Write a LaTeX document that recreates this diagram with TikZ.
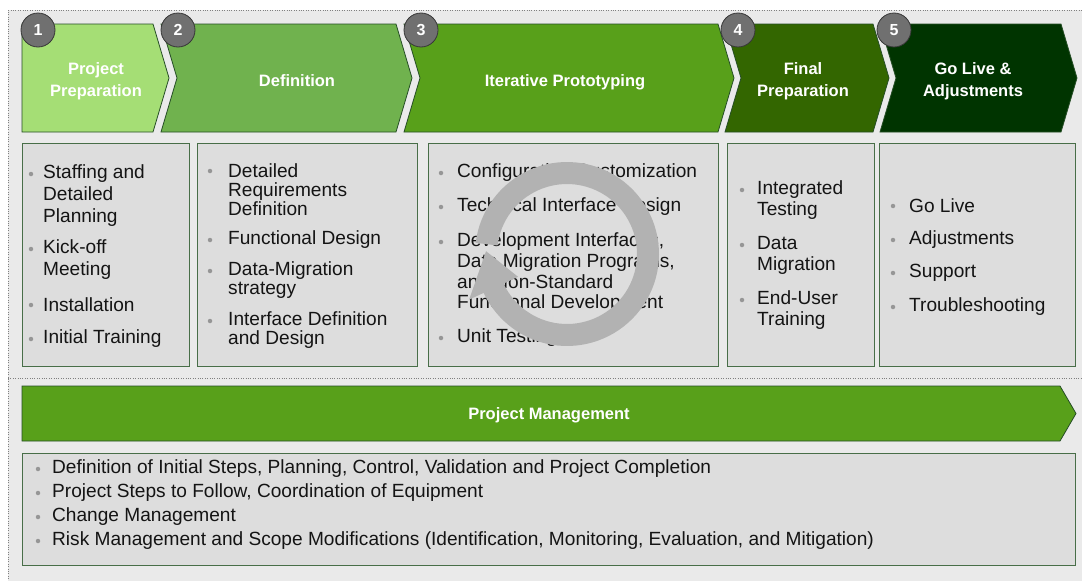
\documentclass[tikz,border=0pt]{standalone}
\usepackage{fontspec}
\setmainfont{Liberation Sans}

\definecolor{backgray}{RGB}{234,234,234}
\definecolor{panelgray}{RGB}{221,221,221}
\definecolor{panelline}{RGB}{72,110,72}
\definecolor{phaseline}{RGB}{38,78,38}
\definecolor{phaseA}{RGB}{165,222,117}
\definecolor{phaseB}{RGB}{112,178,78}
\definecolor{phaseC}{RGB}{88,160,26}
\definecolor{phaseD}{RGB}{51,102,0}
\definecolor{phaseE}{RGB}{0,52,0}
\definecolor{numgray}{RGB}{112,112,112}
\definecolor{numline}{RGB}{55,55,55}
\definecolor{ringgray}{RGB}{178,178,178}
\definecolor{dotgray}{RGB}{150,150,150}
\definecolor{itemtext}{RGB}{20,20,20}

\begin{document}
\begin{tikzpicture}[x=1pt, y=-1pt,
   phase/.style={draw=phaseline, line width=0.8pt},
   panel/.style={fill=panelgray, draw=panelline, line width=0.8pt},
   phasenum/.style={circle, fill=numgray, draw=numline, line width=0.8pt, minimum size=34pt,
      inner sep=0pt, text=white, font=\bfseries\fontsize{16}{16}\selectfont},
   title/.style={text=white, align=center, inner sep=0pt, yshift=-1.5pt,
      font=\bfseries\fontsize{16.5}{22}\selectfont},
   item/.style={anchor=west, align=left, inner sep=0pt, yshift=-2pt, text=itemtext,
      font=\fontsize{19.1}{#1}\selectfont},
   item/.default=22,
   dot/.style={circle, fill=dotgray, inner sep=0pt, minimum size=4.5pt, yshift=-1pt}]
   \useasboundingbox (0,0) rectangle (1082,581);
   \fill[backgray] (8,10) rectangle (1082,581);
   \draw[dotted, gray] (8,581) -- (8,10) -- (1082,10);
   \draw[dotted, gray] (8,378) -- (1082,378);

   % phase arrows
   \filldraw[phase, fill=phaseA] (22,24) -- (153,24) -- (169,78) -- (153,132) -- (22,132) -- cycle;
   \filldraw[phase, fill=phaseB] (161,24) -- (396,24) -- (412,78) -- (396,132) -- (161,132) -- (177,78) -- cycle;
   \filldraw[phase, fill=phaseC] (404,24) -- (718,24) -- (734,78) -- (718,132) -- (404,132) -- (420,78) -- cycle;
   \filldraw[phase, fill=phaseD] (725,24) -- (873,24) -- (889,78) -- (873,132) -- (725,132) -- (741,78) -- cycle;
   \filldraw[phase, fill=phaseE] (880,24) -- (1061,24) -- (1077,78) -- (1061,132) -- (880,132) -- (896,78) -- cycle;
   \node[title] (prep) at (96,80) {Project\\Preparation};
   \node[title] (defn) at (297,79) {Definition};
   \node[title] (proto) at (565,81) {Iterative Prototyping};
   \node[title] (final) at (803,80) {Final\\Preparation};
   \node[title] (golive) at (973,80) {Go Live \&\\Adjustments};
   \node[phasenum] (n1) at (38,30) {1};
   \node[phasenum] (n2) at (178,30) {2};
   \node[phasenum] (n3) at (421,30) {3};
   \node[phasenum] (n4) at (738,30) {4};
   \node[phasenum] (n5) at (894,30) {5};

   % task panels
   \filldraw[panel] (22,143) rectangle (189,366);
   \filldraw[panel] (197,143) rectangle (417,366);
   \filldraw[panel] (428,143) rectangle (718,366);
   \filldraw[panel] (727,143) rectangle (874,366);
   \filldraw[panel] (879,143) rectangle (1075,366);

   \node[dot] (d11) at (31,173) {};
   \node[item] (staff) at (43,194) {Staffing and\\Detailed\\Planning};
   \node[dot] (d12) at (31,248) {};
   \node[item] (kick) at (43,258) {Kick-off\\Meeting};
   \node[dot] (d13) at (31,304) {};
   \node[item] (inst) at (43,303) {Installation};
   \node[dot] (d14) at (31,338) {};
   \node[item] (train) at (43,337) {Initial Training};

   \node[dot] (d21) at (210,170) {};
   \node[item=19] (reqs) at (228,188) {Detailed\\Requirements\\Definition};
   \node[dot] (d22) at (210,239) {};
   \node[item] (fdes) at (228,238) {Functional Design};
   \node[dot] (d23) at (210,270) {};
   \node[item=19] (migr) at (228,278.5) {Data-Migration\\strategy};
   \node[dot] (d24) at (210,320) {};
   \node[item=19] (ifdef) at (228,328.5) {Interface Definition\\and Design};

   \node[dot] (d31) at (441,172) {};
   \node[item] (conf) at (457,171) {Configuration/Customization};
   \node[dot] (d32) at (441,206) {};
   \node[item] (tech) at (457,205) {Technical Interface Design};
   \node[dot] (d33) at (441,241) {};
   \node[item=20.7] (devel) at (457,271) {Development Interfaces,\\Data Migration Programs,\\and Non-Standard\\Functional Development};
   \node[dot] (d34) at (441,337) {};
   \node[item] (unit) at (457,336) {Unit Testing};

   \node[dot] (d41) at (742,189) {};
   \node[item=21] (integ) at (757,198.5) {Integrated\\Testing};
   \node[dot] (d42) at (742,244) {};
   \node[item=21] (data) at (757,253.5) {Data\\Migration};
   \node[dot] (d43) at (742,299) {};
   \node[item=21] (enduser) at (757,308.5) {End-User\\Training};

   \node[dot] (d51) at (893,205) {};
   \node[item] (live) at (909,204) {Go Live};
   \node[dot] (d52) at (893,239) {};
   \node[item] (adj) at (909,238) {Adjustments};
   \node[dot] (d53) at (893,272) {};
   \node[item] (supp) at (909,271) {Support};
   \node[dot] (d54) at (893,306) {};
   \node[item] (trbl) at (909,305) {Troubleshooting};

   % iteration loop over the prototyping panel, band plus head
   \coordinate (loop) at (567,254);
   \fill[ringgray] plot[domain=187:515, samples=90] ({567+92*cos(\x)},{254+92*sin(\x)})
      -- ([shift={(515:108)}]loop) -- ([shift={(542:81)}]loop) -- ([shift={(515:54)}]loop)
      -- plot[domain=515:187, samples=90] ({567+70*cos(\x)},{254+70*sin(\x)}) -- cycle;

   % project management band
   \filldraw[phase, fill=phaseC] (22,386) -- (1060,386) -- (1076,413.5) -- (1060,441) -- (22,441) -- cycle;
   \node[title] (pm) at (549,414) {Project Management};
   \filldraw[panel] (22,453) rectangle (1075,565);
   \node[dot] (d61) at (38,468) {};
   \node[item] (pm1) at (52,467) {Definition of Initial Steps, Planning, Control, Validation and Project Completion};
   \node[dot] (d62) at (38,492) {};
   \node[item] (pm2) at (52,491) {Project Steps to Follow, Coordination of Equipment};
   \node[dot] (d63) at (38,516) {};
   \node[item] (pm3) at (52,515) {Change Management};
   \node[dot] (d64) at (38,540) {};
   \node[item] (pm4) at (52,539) {Risk Management and Scope Modifications (Identification, Monitoring, Evaluation, and Mitigation)};
\end{tikzpicture}
\end{document}
